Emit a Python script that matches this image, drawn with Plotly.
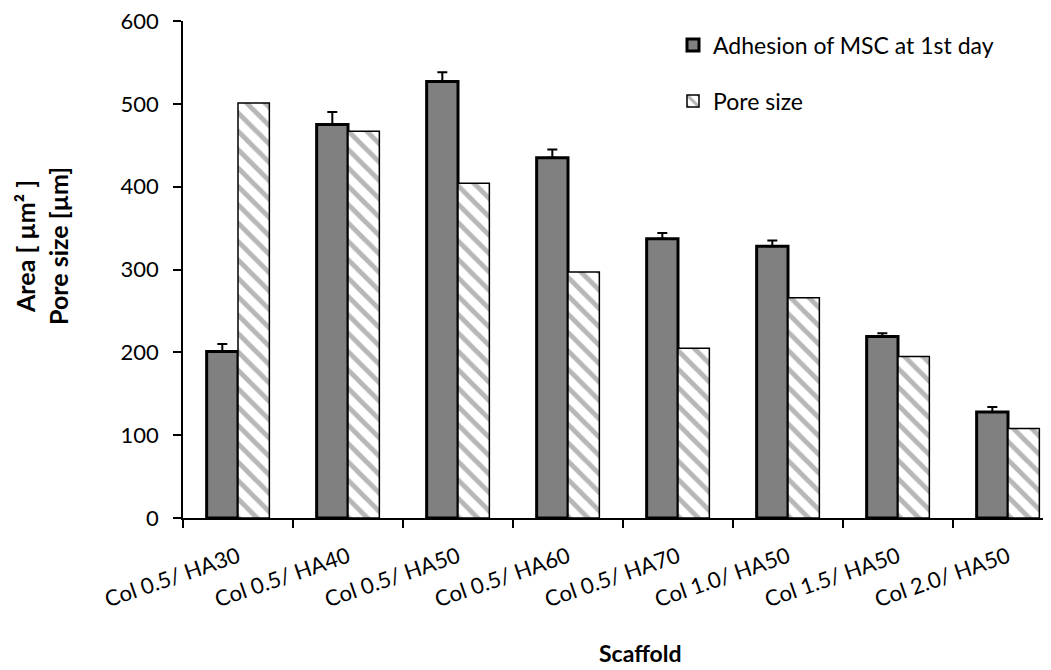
import plotly.graph_objects as go

categories = ["Col 0.5/ HA30", "Col 0.5/ HA40", "Col 0.5/ HA50", "Col 0.5/ HA60",
              "Col 0.5/ HA70", "Col 1.0/ HA50", "Col 1.5/ HA50", "Col 2.0/ HA50"]
adhesion = [201, 475, 527, 435, 337, 328, 219, 128]
adhesion_err = [9, 15, 11, 10, 7, 7, 4, 6]
pore_size = [501, 467, 404, 297, 205, 266, 195, 108]
y_ticks = [0, 100, 200, 300, 400, 500, 600]

FONT = "Lato, Calibri, Carlito, sans-serif"
OFF = 8  # page body margin offset
W, H = 1051 - OFF, 670 - OFF
L, R, T, B = 183 - OFF, 0, 21 - OFF, 152

fig = go.Figure()
fig.add_trace(go.Bar(
    x=categories, y=adhesion, name="Adhesion of MSC at 1st day",
    marker=dict(color="#808080", line=dict(color="black", width=3)),
    error_y=dict(type="data", array=adhesion_err, arrayminus=[0]*len(adhesion_err),
                 symmetric=False, color="black", thickness=2, width=5),
    legend="legend",
))
fig.add_trace(go.Bar(
    x=categories, y=pore_size, name="Pore size",
    marker=dict(color="white", line=dict(color="black", width=1.5),
                pattern=dict(shape="\\", fgcolor="#6f6f6f", bgcolor="white",
                             size=13, solidity=0.38)),
    legend="legend2",
))

plot_w = W - L - R
plot_h = H - T - B
x_end = -0.5 + plot_w / 110.0

def px(x):
    return (x - OFF - L) / plot_w

def py(y):
    return 1 - (y - OFF - T) / plot_h

fig.update_layout(
    width=W, height=H,
    margin=dict(l=L, r=R, t=T, b=B, autoexpand=False),
    paper_bgcolor="white", plot_bgcolor="white",
    barmode="group", bargap=0.43, bargroupgap=0,
    font=dict(family=FONT, size=22, color="black"),
    showlegend=True,
    legend=dict(x=px(673), y=py(45), xanchor="left", yanchor="middle",
                font=dict(size=23), bgcolor="rgba(0,0,0,0)"),
    legend2=dict(x=px(673), y=py(101), xanchor="left", yanchor="middle",
                 font=dict(size=23), bgcolor="rgba(0,0,0,0)"),
)
fig.update_xaxes(
    type="category", range=[-0.5, x_end], automargin=False,
    showline=True, linecolor="black", linewidth=1.5,
    ticks="outside", tickson="boundaries", ticklen=8, tickcolor="black", tickwidth=1.5,
    tickangle=-19, tickfont=dict(size=22), ticklabelstandoff=16,
    showgrid=False, zeroline=False,
)
fig.update_yaxes(
    range=[0, 600], tickvals=y_ticks, automargin=False,
    showline=True, linecolor="black", linewidth=1.5,
    ticks="outside", ticklen=8, tickcolor="black", tickwidth=1.5,
    ticklabelstandoff=10, ticklabeloverflow="allow",
    tickfont=dict(size=22), showgrid=False, zeroline=False,
)
fig.add_annotation(
    text="<b>Area [ µm² ]</b><br><b>Pore size [µm]</b>",
    xref="paper", yref="paper",
    x=px(42), y=py(246),
    textangle=-90, showarrow=False, font=dict(size=25), align="center",
    xanchor="center", yanchor="middle",
)
fig.add_annotation(
    text="<b>Scaffold</b>", xref="paper", yref="paper",
    x=px(640), y=py(653),
    showarrow=False, font=dict(size=23), xanchor="center", yanchor="middle",
)

fig.write_html("out.html")
